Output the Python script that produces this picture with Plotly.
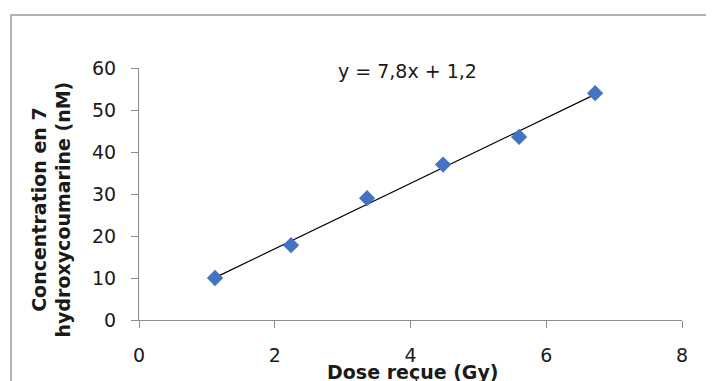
import numpy as np
import plotly.graph_objects as go

# ── Data ──
dose = [1.12, 2.24, 3.36, 4.48, 5.60, 6.72]
conc = [10.0, 17.8, 29.0, 37.0, 43.6, 54.0]
x_ticks = [0, 2, 4, 6, 8]
y_ticks = [0, 10, 20, 30, 40, 50, 60]
equation = 'y = 7,8x + 1,2'

# ── Linear trendline (least squares) ──
slope, intercept = np.polyfit(dose, conc, 1)
fit_x = [min(dose), max(dose)]
fit_y = [slope * v + intercept for v in fit_x]

FONT = 'DejaVu Sans'
AXIS_GREY = '#8c8c8c'
TEXT = '#1a1a1a'

fig = go.Figure()
fig.add_trace(go.Scatter(x=fit_x, y=fit_y, mode='lines',
    line=dict(color='black', width=1.2), hoverinfo='skip'))
fig.add_trace(go.Scatter(x=dose, y=conc, mode='markers',
    marker=dict(symbol='diamond', size=12.5, color='#4472C4')))

axis_common = dict(showgrid=False, zeroline=False, showline=True,
                   linecolor=AXIS_GREY, linewidth=1,
                   ticks='outside', tickcolor=AXIS_GREY, ticklen=7,
                   ticklabelstandoff=11,
                   tickfont=dict(family=FONT, size=19, color=TEXT))
fig.update_xaxes(range=[0, 8], tickvals=x_ticks, **axis_common)
fig.update_yaxes(range=[0, 60], tickvals=y_ticks, **axis_common)

# equation label
fig.add_annotation(text=equation, xref='paper', yref='paper',
    x=0.494, y=0.99, xanchor='center', yanchor='middle', showarrow=False,
    font=dict(family=FONT, size=19, color=TEXT))
# y title (two lines, rotated)
fig.add_annotation(text='<b>Concentration en 7<br>hydroxycoumarine (nM)</b>',
    xref='paper', yref='paper', x=-0.161, y=0.437, textangle=-90,
    xanchor='center', yanchor='middle', showarrow=False,
    font=dict(family=FONT, size=19, color=TEXT))
# x title (sits just under the tick labels, near the frame bottom)
fig.add_annotation(text='<b>Dose reçue (Gy)</b>', xref='paper', yref='paper',
    x=0.504, y=-0.205, xanchor='center', yanchor='middle', showarrow=False,
    font=dict(family=FONT, size=19, color=TEXT))

# chart area border (extends beyond the visible window)
fig.add_shape(type='rect', xref='paper', yref='paper',
    x0=-0.2357, y0=-1.0, x1=2.0, y1=1.2103,
    line=dict(color='#9a9a9a', width=1.5))

# page body has an 8px margin, so the figure is sized/offset to compensate
fig.update_layout(width=706, height=373,
    margin=dict(l=131, r=32, t=60, b=61),
    plot_bgcolor='white', paper_bgcolor='white', showlegend=False)

fig.write_html('out.html')
